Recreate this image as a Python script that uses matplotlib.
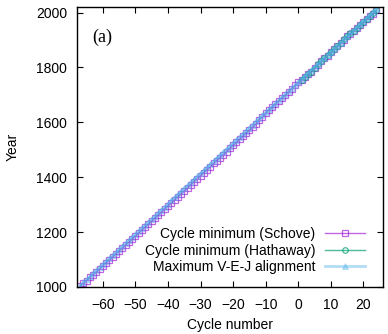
import matplotlib
matplotlib.use("Agg")
import matplotlib.pyplot as plt
import numpy as np

plt.rcParams["font.family"] = ["Liberation Sans", "DejaVu Sans"]

# --- data ---
# Schove cycle minima, cycles -67 .. 24
schove_first = -67
schove_year = [
    1002, 1013, 1023, 1035, 1045, 1055, 1066, 1078, 1088, 1098,
    1109, 1120, 1131, 1142, 1153, 1163, 1174, 1185, 1196, 1208,
    1218, 1229, 1240, 1251, 1261, 1273, 1284, 1295, 1306, 1317,
    1328, 1339, 1350, 1361, 1372, 1384, 1395, 1405, 1416, 1427,
    1438, 1450, 1460, 1471, 1482, 1493, 1505, 1516, 1527, 1538,
    1549, 1560, 1571, 1582, 1593,
    1610, 1619, 1634, 1645, 1655, 1666, 1679, 1689, 1698, 1712,
    1723, 1734, 1745, 1755, 1766, 1775, 1784, 1798, 1810, 1823,
    1833, 1843, 1856, 1867, 1878, 1889, 1901, 1913, 1923, 1933,
    1944, 1954, 1964, 1976, 1986, 1996, 2008,
]

# Hathaway cycle minima, cycles 1 .. 24
hathaway_first = 1
hathaway_year = [
    1755.2, 1766.5, 1775.5, 1784.7, 1798.3, 1810.6, 1823.3, 1833.9,
    1843.5, 1855.9, 1867.2, 1878.9, 1890.2, 1902.0, 1913.6, 1923.6,
    1933.8, 1944.2, 1954.3, 1964.9, 1976.5, 1986.8, 1996.4, 2008.9,
]

# Maximum V-E-J alignment, cycles -67 .. 24
vej_first = -67
vej_year = [
    1005.0, 1016.1, 1027.1, 1038.2, 1049.3, 1060.3, 1071.4, 1082.5, 1093.6, 1104.6,
    1115.7, 1126.8, 1137.8, 1148.9, 1160.0, 1171.1, 1182.1, 1193.2, 1204.3, 1215.3,
    1226.4, 1237.5, 1248.5, 1259.6, 1270.7, 1281.8, 1292.8, 1303.9, 1315.0, 1326.0,
    1337.1, 1348.2, 1359.3, 1370.3, 1381.4, 1392.5, 1403.5, 1414.6, 1425.7, 1436.7,
    1447.8, 1458.9, 1470.0, 1481.0, 1492.1, 1503.2, 1514.2, 1525.3, 1536.4, 1547.5,
    1558.5, 1569.6, 1580.7, 1591.7, 1602.8, 1613.9, 1624.9, 1636.0, 1647.1, 1658.2,
    1669.2, 1680.3, 1691.4, 1702.4, 1713.5, 1724.6, 1735.7, 1746.7, 1757.8, 1768.9,
    1779.9, 1791.0, 1802.1, 1813.1, 1824.2, 1835.3, 1846.4, 1857.4, 1868.5, 1879.6,
    1890.6, 1901.7, 1912.8, 1923.9, 1934.9, 1946.0, 1957.1, 1968.1, 1979.2, 1990.3,
    2001.3, 2012.4,
]

schove_cyc = np.arange(schove_first, schove_first + len(schove_year))
hathaway_cyc = np.arange(hathaway_first, hathaway_first + len(hathaway_year))
vej_cyc = np.arange(vej_first, vej_first + len(vej_year))

fig = plt.figure(figsize=(3.88, 3.34), dpi=100)
ax = fig.add_axes([0.198, 0.141, 0.789, 0.838])

ax.plot(schove_cyc, schove_year, color="#9400d3", alpha=0.6, lw=1,
        marker="s", ms=4, mfc="none", mew=0.9,
        label="Cycle minimum (Schove)")
ax.plot(hathaway_cyc, hathaway_year, color="#009e73", alpha=0.7, lw=1,
        marker="o", ms=4, mfc="none", mew=0.9,
        label="Cycle minimum (Hathaway)")
ax.plot(vej_cyc, vej_year, color="#56b4e9", alpha=0.45, lw=2,
        marker="^", ms=4, mew=0.5,
        label="Maximum V-E-J alignment")

ax.set_xlim(-68, 26)
ax.set_ylim(1000, 2020)
ax.set_xticks(np.arange(-60, 21, 10))
ax.set_yticks(np.arange(1000, 2001, 200))
ax.tick_params(direction="in", top=True, right=True, length=4, width=0.8,
               labelsize=10)
ax.tick_params(axis="x", pad=8)
ax.tick_params(axis="y", pad=7)
for s in ax.spines.values():
    s.set_linewidth(1.0)

ax.set_xlabel("Cycle number", fontsize=10, labelpad=4)
ax.set_ylabel("Year", fontsize=10, labelpad=12)

ax.text(0.05, 0.893, "(a)", transform=ax.transAxes, fontsize=13,
        family=["Liberation Serif", "DejaVu Serif"], va="center", ha="left")

ax.legend(loc="lower right", bbox_to_anchor=(0.941, 0.045), frameon=False,
          markerfirst=False, alignment="right", fontsize=10,
          handlelength=2.9, handletextpad=0.65, labelspacing=0.18,
          borderaxespad=0, borderpad=0)

fig.savefig("out.png", dpi=100)
